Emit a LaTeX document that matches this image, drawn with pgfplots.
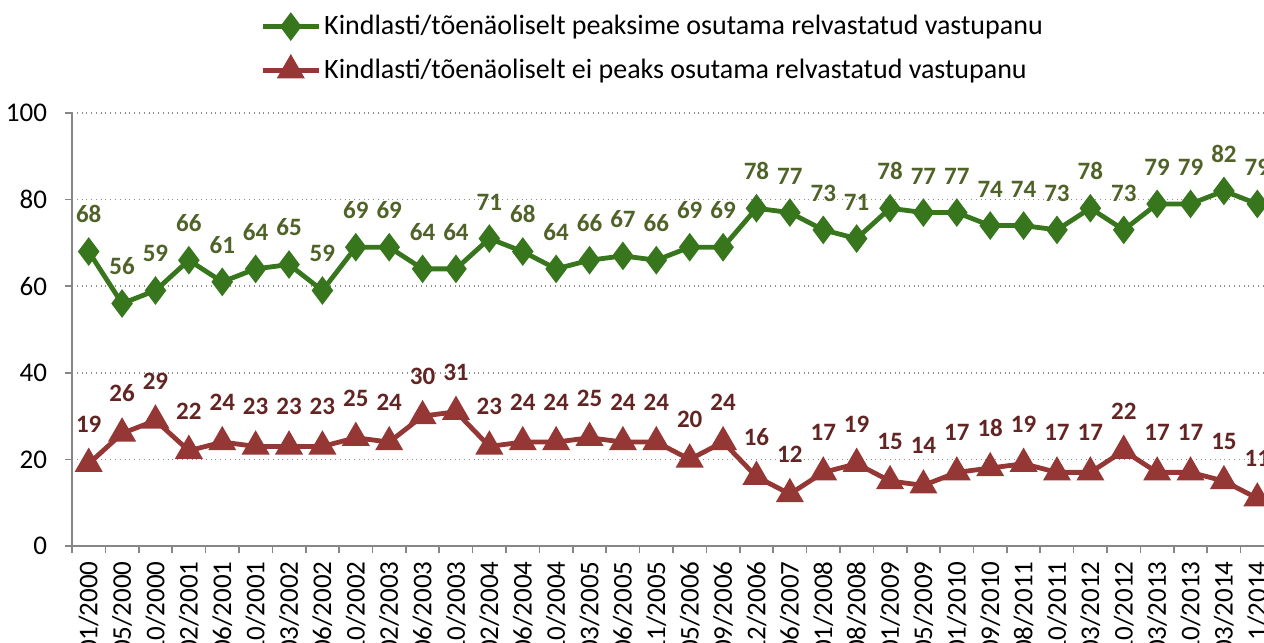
\documentclass[border=0pt]{standalone}
\usepackage{pgfplots}
\pgfplotsset{compat=1.18}
\usepackage{pgfplotstable}
\usepackage{fontspec}
\setmainfont{Carlito}
\definecolor{gline}{RGB}{55,118,29}
\definecolor{glab}{RGB}{79,98,40}
\definecolor{rline}{RGB}{149,55,53}
\definecolor{rlab}{RGB}{99,37,35}
\definecolor{axgray}{RGB}{134,134,134}
\definecolor{gridgray}{RGB}{140,140,140}
\newcommand\xl[1]{#1\hspace*{7.5bp}}
\pgfplotstableread{
x g r
0 68 19
1 56 26
2 59 29
3 66 22
4 61 24
5 64 23
6 65 23
7 59 23
8 69 25
9 69 24
10 64 30
11 64 31
12 71 23
13 68 24
14 64 24
15 66 25
16 67 24
17 66 24
18 69 20
19 69 24
20 78 16
21 77 12
22 73 17
23 71 19
24 78 15
25 77 14
26 77 17
27 74 18
28 74 19
29 73 17
30 78 17
31 73 22
32 79 17
33 79 17
34 82 15
35 79 11
}\data
\begin{document}
\begin{tikzpicture}
\path[use as bounding box, clip] (-36bp,-48.5bp) rectangle (596bp,273bp);
\begin{axis}[
  scale only axis, width=601bp, height=216.5bp,
  xmin=-0.5, xmax=35.5, ymin=0, ymax=100,
  ytick={0,20,...,100},
  ymajorgrids,
  grid style={dotted, gridgray, line width=0.7bp},
  axis x line*=bottom, axis y line*=left,
  axis line style={axgray, line width=0.8bp},
  tick style={axgray, line width=0.8bp},
  tick align=outside,
  major tick length=3.5bp,
  xtick={-0.5,0.5,...,35.5},
  xticklabels={},
  extra x ticks={0,1,...,35},
  extra x tick labels={\xl{01/2000},\xl{05/2000},\xl{10/2000},\xl{02/2001},\xl{06/2001},\xl{10/2001},\xl{03/2002},\xl{06/2002},\xl{10/2002},\xl{02/2003},\xl{06/2003},\xl{10/2003},\xl{02/2004},\xl{06/2004},\xl{10/2004},\xl{03/2005},\xl{06/2005},\xl{11/2005},\xl{05/2006},\xl{09/2006},\xl{12/2006},\xl{06/2007},\xl{01/2008},\xl{08/2008},\xl{01/2009},\xl{05/2009},\xl{01/2010},\xl{09/2010},\xl{08/2011},\xl{10/2011},\xl{03/2012},\xl{10/2012},\xl{03/2013},\xl{10/2013},\xl{03/2014},\xl{11/2014}},
  extra x tick style={major tick length=0pt, grid=none},
  xticklabel style={rotate=90, anchor=east, font=\fontsize{13.5bp}{16bp}\selectfont, inner sep=0pt},
  yticklabel style={font=\fontsize{13.5bp}{16bp}\selectfont, xshift=-5.5bp},
  /pgf/number format/assume math mode=true,
  clip=false,
  legend style={at={(0,1)}, anchor=north west, xshift=94bp, yshift=49bp, draw=none, fill=none,
    font=\fontsize{14bp}{17bp}\selectfont, row sep=10.5bp, inner sep=0pt,
    nodes={inner xsep=1.5bp, inner ysep=0pt}},
  legend cell align=left,
  legend image code/.code={\draw[mark repeat=2, mark phase=2, line width=2.4bp] plot coordinates {(0bp,0bp) (14bp,0bp) (28bp,0bp)};},
]
\addplot[gline, line width=2.4bp, mark=diamond*, mark size=5.2bp, mark options={solid, fill=gline},
  nodes near coords,
  every node near coord/.append style={font=\fontsize{12.5bp}{15bp}\selectfont\bfseries, text=glab, anchor=south, yshift=13bp, inner sep=0pt}]
  table[x=x, y=g] {\data};
\addlegendentry{Kindlasti/tõenäoliselt peaksime osutama relvastatud vastupanu}
\addplot[rline, line width=2.4bp, mark=triangle*, mark size=5.7bp, mark options={solid, fill=rline},
  nodes near coords,
  every node near coord/.append style={font=\fontsize{12.5bp}{15bp}\selectfont\bfseries, text=rlab, anchor=south, yshift=14.5bp, inner sep=0pt}]
  table[x=x, y=r] {\data};
\addlegendentry{Kindlasti/tõenäoliselt ei peaks osutama relvastatud vastupanu}
\end{axis}
\end{tikzpicture}
\end{document}
